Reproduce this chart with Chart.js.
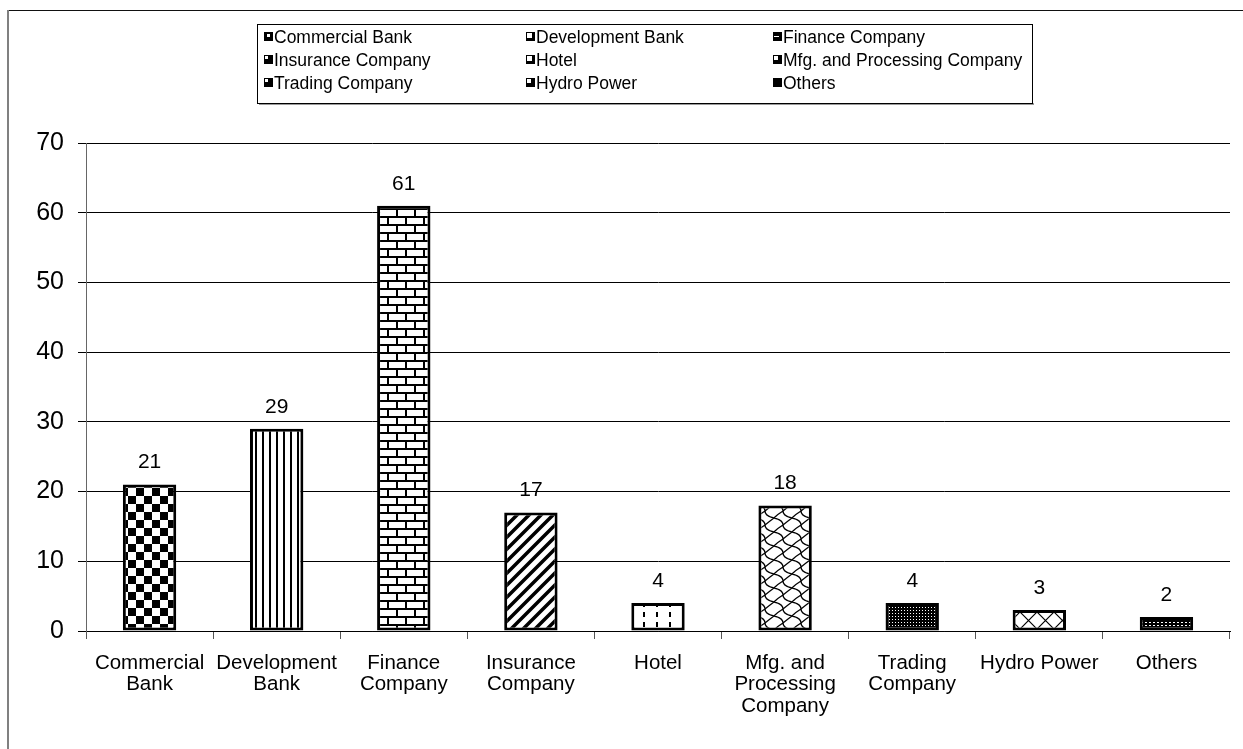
<!DOCTYPE html>
<html>
<head>
<meta charset="utf-8">
<style>
  html, body { margin: 0; padding: 0; background: #fff; }
  #wrap { width: 1243px; height: 749px; position: relative; }
</style>
<script src="https://cdn.jsdelivr.net/npm/chart.js@4/dist/chart.umd.min.js"></script>
</head>
<body>
<div id="wrap"><canvas id="sectorChart" width="1243" height="749"></canvas></div>
<script>
const categories = [
  ['Commercial', 'Bank'], ['Development', 'Bank'], ['Finance', 'Company'],
  ['Insurance', 'Company'], ['Hotel'], ['Mfg. and', 'Processing', 'Company'],
  ['Trading', 'Company'], ['Hydro Power'], ['Others']
];
const legendNames = [
  'Commercial Bank', 'Development Bank', 'Finance Company',
  'Insurance Company', 'Hotel', 'Mfg. and Processing Company',
  'Trading Company', 'Hydro Power', 'Others'
];
const counts = [21, 29, 61, 17, 4, 18, 4, 3, 2];
const yTicks = [0, 10, 20, 30, 40, 50, 60, 70];

const FONT = '"Liberation Sans", Arial, sans-serif';

// small tile canvases turned into fill patterns
function tile(w, h, draw) {
  const c = document.createElement('canvas');
  c.width = w; c.height = h;
  const g = c.getContext('2d');
  g.fillStyle = '#fff';
  g.fillRect(0, 0, w, h);
  g.fillStyle = '#000';
  g.strokeStyle = '#000';
  draw(g, w, h);
  return document.getElementById('sectorChart').getContext('2d').createPattern(c, 'repeat');
}

const patterns = [
  // checkerboard
  tile(16, 16, g => { g.fillRect(0, 0, 8, 8); g.fillRect(8, 8, 8, 8); }),
  // vertical lines
  tile(7, 4, g => { g.fillRect(3, 0, 2, 4); }),
  // bricks
  tile(18, 16, g => {
    g.fillRect(0, 0, 18, 2); g.fillRect(0, 8, 18, 2);
    g.fillRect(0, 0, 2, 8); g.fillRect(9, 8, 2, 8);
  }),
  // wide diagonal stripes
  tile(12, 12, g => {
    g.lineWidth = 3.5;
    g.beginPath();
    g.moveTo(-2, 14); g.lineTo(14, -2);
    g.moveTo(-8, 8); g.lineTo(8, -8);
    g.moveTo(4, 20); g.lineTo(20, 4);
    g.stroke();
  }),
  // dashed vertical lines
  tile(13, 10, g => { g.fillRect(6, 2, 2, 5); }),
  // scales / waves
  tile(18, 14, g => {
    g.lineWidth = 1.3;
    g.beginPath();
    g.moveTo(0, 0); g.quadraticCurveTo(9, 2, 9, 7); g.quadraticCurveTo(9, 12, 18, 14);
    g.moveTo(9, 7); g.quadraticCurveTo(14, 3, 18, 0);
    g.moveTo(0, 14); g.quadraticCurveTo(4, 10, 9, 7);
    g.stroke();
  }),
  // dense dots
  tile(3, 3, g => { g.fillRect(0, 0, 3, 3); g.fillStyle = '#fff'; g.fillRect(1, 1, 1, 1); }),
  // diagonal cross
  tile(17, 17, g => {
    g.lineWidth = 1.2;
    g.beginPath();
    g.moveTo(0, 0); g.lineTo(17, 17);
    g.moveTo(17, 0); g.lineTo(0, 17);
    g.stroke();
  }),
  // small grid
  tile(4, 3, g => { g.fillRect(0, 0, 4, 3); g.fillStyle = '#fff'; g.fillRect(1, 1, 2, 1); })
];

// legend marker glyphs: black square with a small white cut-out
const markerHoles = [
  [4, 3, 4, 4], [2, 2, 6, 6], [2, 5, 6, 2], [2, 2, 4, 4], [2, 2, 6, 6],
  [2, 2, 5, 5], [2, 2, 4, 4], [2, 2, 5, 5], [4, 2, 1, 6]
];

const framePlugin = {
  id: 'frame',
  beforeDraw(chart) {
    const ctx = chart.ctx;
    ctx.save();
    ctx.fillStyle = '#fff';
    ctx.fillRect(0, 0, chart.width, chart.height);
    ctx.fillStyle = '#111';
    ctx.fillRect(7, 10, chart.width - 7, 1);
    ctx.fillStyle = '#808080';
    ctx.fillRect(7, 10, 2, chart.height - 10);
    ctx.restore();
  }
};

const legendPlugin = {
  id: 'gridLegend',
  afterDraw(chart) {
    const ctx = chart.ctx;
    const box = { x: 257, y: 24, w: 775, h: 79 };
    const colX = [268, 530, 777];
    const rowY = [37, 60, 83];
    ctx.save();
    ctx.fillStyle = '#9a9a9a';
    ctx.fillRect(box.x + 2, box.y + box.h, box.w, 2);
    ctx.strokeStyle = '#000';
    ctx.lineWidth = 1;
    ctx.strokeRect(box.x + 0.5, box.y + 0.5, box.w, box.h);
    ctx.font = '17.5px ' + FONT;
    ctx.textBaseline = 'middle';
    legendNames.forEach((name, i) => {
      const x = colX[i % 3];
      const y = rowY[Math.floor(i / 3)];
      ctx.fillStyle = '#000';
      ctx.fillRect(x - 4, y - 5, 9, 9);
      const h = markerHoles[i];
      ctx.fillStyle = '#fff';
      ctx.fillRect(x - 4 + h[0] - 1, y - 5 + h[1] - 1, h[2] - 1, h[3] - 1);
      ctx.fillStyle = '#000';
      ctx.fillText(name, x + 6, y + 1);
    });
    ctx.restore();
  }
};

const valueLabels = {
  id: 'valueLabels',
  afterDatasetsDraw(chart) {
    const ctx = chart.ctx;
    const meta = chart.getDatasetMeta(0);
    ctx.save();
    ctx.font = '21px ' + FONT;
    ctx.fillStyle = '#000';
    ctx.textAlign = 'center';
    ctx.textBaseline = 'middle';
    meta.data.forEach((bar, i) => {
      ctx.fillText(String(counts[i]), bar.x, bar.y - 22);
    });
    ctx.restore();
  }
};

new Chart(document.getElementById('sectorChart'), {
  type: 'bar',
  data: {
    labels: categories,
    datasets: [{
      data: counts,
      backgroundColor: patterns,
      borderColor: '#000',
      borderWidth: 3,
      borderSkipped: false,
      barPercentage: 0.42,
      categoryPercentage: 1
    }]
  },
  options: {
    responsive: false,
    animation: false,
    layout: { padding: { top: 143, right: 13, left: 0, bottom: 0 } },
    plugins: {
      legend: { display: false },
      tooltip: { enabled: false }
    },
    scales: {
      x: {
        afterFit(scale) { scale.height = 118; },
        grid: {
          offset: true,
          drawOnChartArea: false,
          color: '#555',
          tickLength: 8
        },
        border: { color: '#000', width: 1 },
        ticks: {
          color: '#000',
          font: { family: FONT, size: 20.5, lineHeight: 1.06 },
          padding: 13,
          maxRotation: 0,
          autoSkip: false
        }
      },
      y: {
        min: 0,
        max: 70,
        afterFit(scale) { scale.width = 86; },
        afterBuildTicks(scale) { scale.ticks = yTicks.map(v => ({ value: v })); },
        grid: {
          color: '#000',
          lineWidth: 1,
          tickLength: 8
        },
        border: { color: '#666', width: 1 },
        ticks: {
          color: '#000',
          font: { family: FONT, size: 25 },
          padding: 14
        }
      }
    }
  },
  plugins: [framePlugin, legendPlugin, valueLabels]
});
</script>
</body>
</html>
